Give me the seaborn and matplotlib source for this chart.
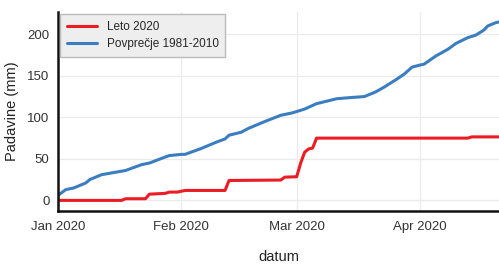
import pandas as pd
import matplotlib
matplotlib.use("Agg")
import matplotlib.pyplot as plt
import matplotlib.dates as mdates
import seaborn as sns

# Leto 2020 (cumulative precipitation, mm)
leto_dates = ['2020-01-01', '2020-01-17', '2020-01-18', '2020-01-23', '2020-01-24',
              '2020-01-28', '2020-01-29', '2020-01-31', '2020-02-02', '2020-02-12',
              '2020-02-13', '2020-02-26', '2020-02-27', '2020-03-01', '2020-03-02',
              '2020-03-03', '2020-03-04', '2020-03-05', '2020-03-06', '2020-04-13',
              '2020-04-14', '2020-04-21']
leto_vals = [0, 0, 2, 2, 7.5, 8.5, 10, 10, 12, 12, 24, 24.5, 28, 28.5, 45, 58, 62, 63,
             75, 75, 76.5, 76.5]

# Povprečje 1981-2010
avg_dates = ['2020-01-01', '2020-01-03', '2020-01-05', '2020-01-08', '2020-01-09',
             '2020-01-12', '2020-01-15', '2020-01-18', '2020-01-22', '2020-01-24',
             '2020-01-27', '2020-01-29', '2020-02-01', '2020-02-02', '2020-02-06',
             '2020-02-10', '2020-02-12', '2020-02-13', '2020-02-16', '2020-02-18',
             '2020-02-22', '2020-02-26', '2020-02-29', '2020-03-03', '2020-03-06',
             '2020-03-09', '2020-03-11', '2020-03-15', '2020-03-18', '2020-03-21',
             '2020-03-23', '2020-03-26', '2020-03-28', '2020-03-30', '2020-04-01',
             '2020-04-02', '2020-04-05', '2020-04-08', '2020-04-10', '2020-04-13',
             '2020-04-15', '2020-04-17', '2020-04-18', '2020-04-20', '2020-04-21']
avg_vals = [6, 13, 15, 21, 25, 31, 33.5, 36, 43, 45, 50.5, 54, 55.4, 55.5, 62.5,
            70.5, 74, 78.5, 82, 87, 95, 102.5, 105.5, 110, 116.5, 120, 122.4, 124, 125,
            131, 136.5, 145.5, 152, 160.5, 163, 164, 174, 182, 189, 196, 199, 205, 210,
            214, 215]

df_leto = pd.DataFrame({'datum': pd.to_datetime(leto_dates), 'Padavine': leto_vals})
df_avg = pd.DataFrame({'datum': pd.to_datetime(avg_dates), 'Padavine': avg_vals})

sns.set_style("whitegrid")
plt.rcParams['font.family'] = ['Liberation Sans', 'DejaVu Sans']

fig = plt.figure(figsize=(4.99, 2.64), dpi=100)
ax = fig.add_axes([0.116, 0.2, 0.884, 0.755])

sns.lineplot(x='datum', y='Padavine', data=df_leto, color='#ec1c24', linewidth=2.2,
             label='Leto 2020', ax=ax)
sns.lineplot(x='datum', y='Padavine', data=df_avg, color='#3a7dc1', linewidth=2.2,
             label='Povprečje 1981-2010', ax=ax)

ax.set_xlim(pd.Timestamp('2020-01-01'), pd.Timestamp('2020-04-20 20:00'))
ax.set_ylim(-13, 227)
ax.set_yticks([0, 50, 100, 150, 200])
ax.xaxis.set_major_locator(mdates.MonthLocator())
ax.xaxis.set_major_formatter(mdates.DateFormatter('%b %Y'))

ax.grid(True, color='#ebebeb', linewidth=0.9)
for s in ['top', 'right']:
    ax.spines[s].set_visible(False)
for s in ['left', 'bottom']:
    ax.spines[s].set_color('#111111')
    ax.spines[s].set_linewidth(1.8)
ax.tick_params(axis='both', length=0, labelsize=9.5, colors='#333333', pad=6)
ax.tick_params(axis='x', pad=7)

ax.set_xlabel('datum', fontsize=10.5, color='#222222', labelpad=12)
ax.set_ylabel('Padavine (mm)', fontsize=10.5, color='#222222', labelpad=6)

leg = ax.legend(loc='upper left', fontsize=8.5, frameon=True, fancybox=False,
                borderaxespad=0.2, handlelength=2.6, borderpad=0.55, labelspacing=0.45)
leg.get_frame().set_facecolor('#eeeeee')
leg.get_frame().set_edgecolor('#bbbbbb')
leg.get_frame().set_alpha(1)
leg.get_frame().set_linewidth(1)

fig.savefig('out.png', dpi=100)
